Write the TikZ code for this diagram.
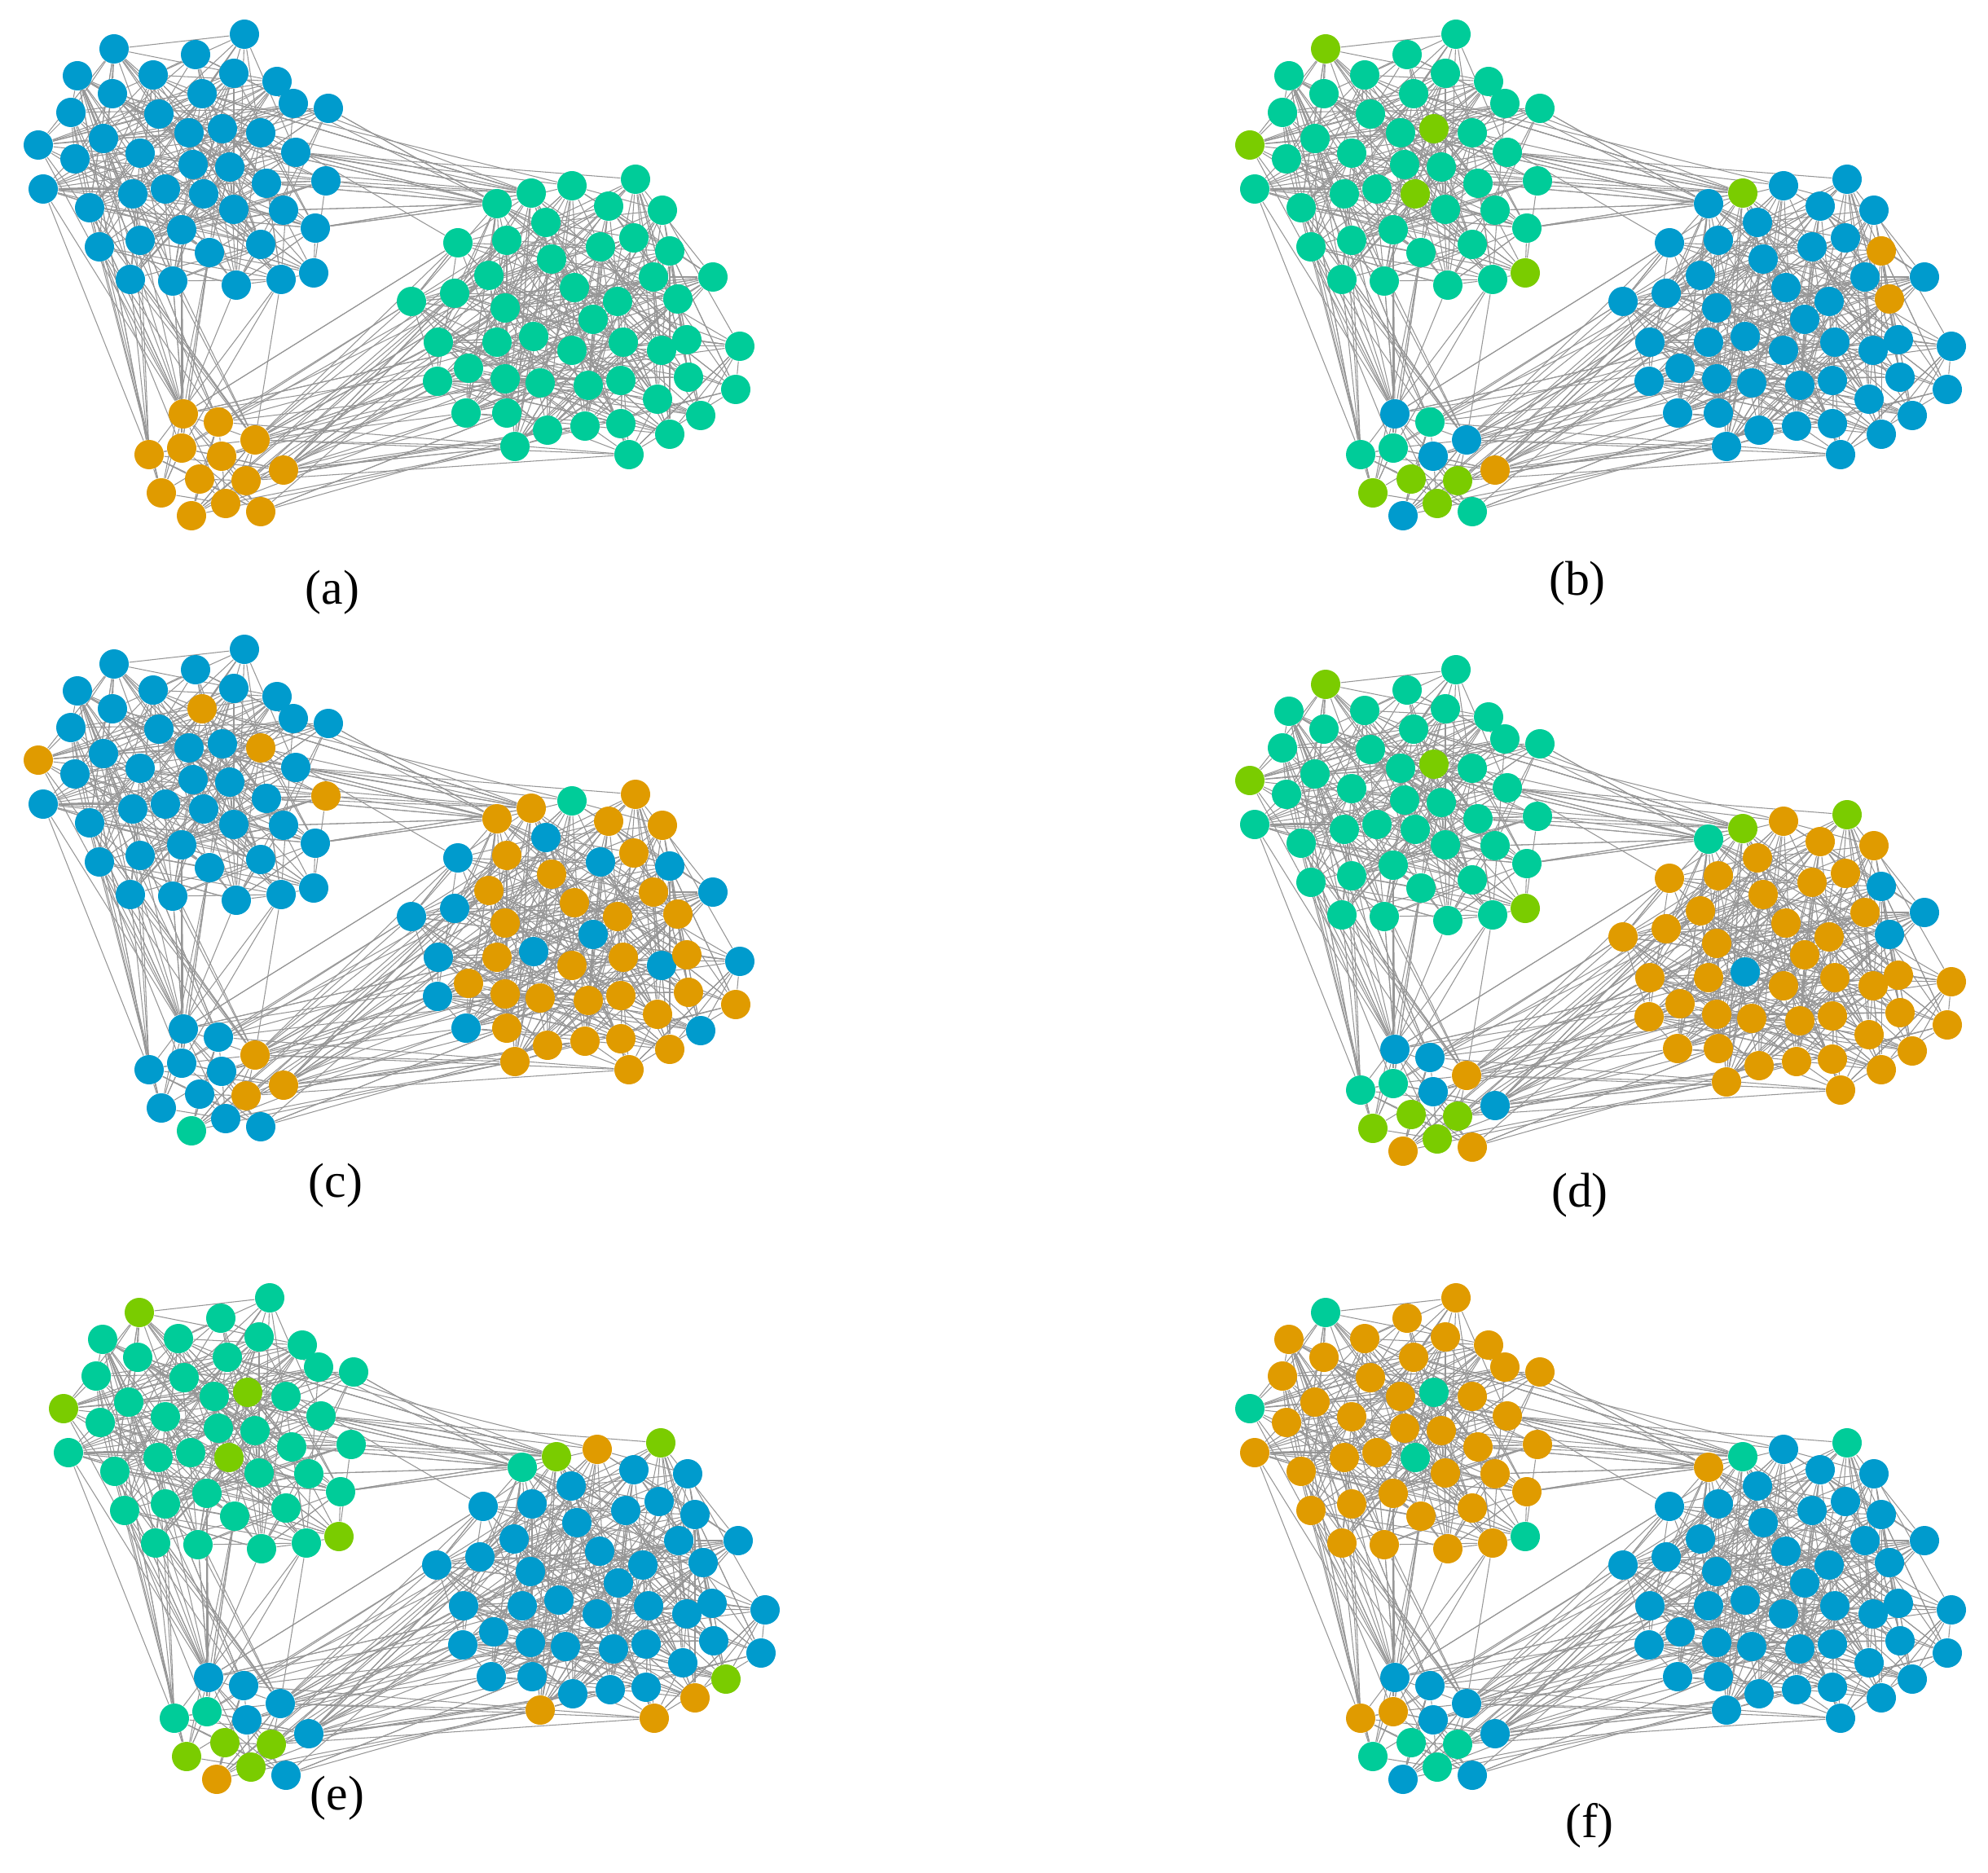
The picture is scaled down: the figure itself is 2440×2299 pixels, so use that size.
\documentclass[tikz,border=0pt]{standalone}
\usepackage{fontspec}
\setmainfont{Liberation Serif}
\pgfdeclarelayer{bg}
\pgfsetlayers{bg,main}
\definecolor{cblue}{RGB}{0,155,205}
\definecolor{cteal}{RGB}{0,204,153}
\definecolor{corange}{RGB}{224,155,0}
\definecolor{clime}{RGB}{122,204,0}
\definecolor{cedge}{RGB}{150,150,150}
\tikzset{
 gnode/.style={circle, inner sep=0pt, minimum size=3.6mm, draw=none},
 gedge/.style={draw=cedge, line width=0.3pt},
 lab/.style={font=\fontsize{17}{20}\selectfont, inner sep=0pt}
}
\def\Tlist{300/42,140/60,240/67,95/93,188/92,287/90,340/100,138/115,248/115,360/127,403/133,87/138,195/140,232/163,273/158,320/163,47/178,127/170,92/195,172/188,363/187,237/202,282/205,327/225,400/222,53/232,163/238,203/232,250/238,110/255,287/257,348/258,387/280,223/282,122/303,172/295,257/310,320/300,160/343,212/345,290/350,345/343,385/335}
\def\Rlist{780/220,702/228,652/237,610/250,747/253,813/258,670/273,562/298,622/295,737/303,778/292,822/308,677/318,600/338,802/340,875/340,558/360,505/370,705/353,758/370,832/367,620/378,728/392,538/420,610/420,655/413,702/430,765/420,812/430,843/417,908/425,575/452,537/468,620/465,663/470,722/473,762/467,845/463,903/478,807/490,572/507,622/507,672/528,718/523,762/520,860/510,822/533,632/548,772/558}
\def\Blist{225/508,268/518,313/540,183/558,223/550,272/560,348/577,245/588,302/590,198/605,277/618,320/628,235/633}
\newcommand\setncs[4]{\foreach \k in {#4}{\expandafter\xdef\csname nc-#1-#2\k\endcsname{#3}}}
\newcommand\pickcol[3]{\ifcsname nc-#1-#2\endcsname\edef\nc{\csname nc-#1-#2\endcsname}\else\edef\nc{#3}\fi}
\newcommand\drawedges[1]{%
 \pgfmathsetseed{4321}%
 \foreach \i in {1,...,43}{\foreach \k in {1,...,6}{\pgfmathrandominteger{\j}{1}{43}\ifnum\j=\i\relax\else\draw[gedge] (#1-T\i) -- (#1-T\j);\fi}}%
 \foreach \i in {1,...,49}{\foreach \k in {1,...,7}{\pgfmathrandominteger{\j}{1}{49}\ifnum\j=\i\relax\else\draw[gedge] (#1-R\i) -- (#1-R\j);\fi}}%
 \foreach \i in {1,...,13}{\foreach \k in {1,2,3}{\pgfmathrandominteger{\j}{1}{13}\ifnum\j=\i\relax\else\draw[gedge] (#1-B\i) -- (#1-B\j);\fi}}%
 \foreach \k in {1,...,30}{\pgfmathrandominteger{\a}{0}{11}\pgfmathrandominteger{\b}{0}{9}%
   \pgfmathtruncatemacro\ta{{11,21,25,33,10,16,24,32,15,23,14,9}[\a]}%
   \pgfmathtruncatemacro\rb{{4,4,4,3,3,3,2,1,4,8}[\b]}%
   \draw[gedge] (#1-T\ta) -- (#1-R\rb);}%
 \foreach \k in {1,...,40}{\pgfmathrandominteger{\a}{0}{15}\pgfmathrandominteger{\b}{0}{9}%
   \pgfmathtruncatemacro\ta{{17,26,30,35,39,40,41,42,43,36,37,19,12,34,27,4}[\a]}%
   \pgfmathtruncatemacro\rb{{1,1,4,4,2,5,3,10,1,4}[\b]}%
   \draw[gedge] (#1-T\ta) -- (#1-B\rb);}%
 \foreach \k in {1,...,60}{\pgfmathrandominteger{\c}{0}{15}\pgfmathrandominteger{\b}{0}{19}%
   \pgfmathtruncatemacro\ba{{1,2,3,3,7,7,12,12,9,6,11,13,5,2,3,7}[\c]}%
   \pgfmathtruncatemacro\rb{{8,14,17,18,24,32,33,41,42,48,22,25,34,43,49,35,44,13,26,9}[\b]}%
   \draw[gedge] (#1-B\ba) -- (#1-R\rb);}%
}
\newcommand\drawpanel[6]{%
 \begin{scope}[shift={(#2,#3)}]
  \foreach \x/\y [count=\i] in \Tlist {\pickcol{#1}{T\i}{#4}\node[gnode,fill=\nc] (#1-T\i) at (\x,\y) {};}
  \foreach \x/\y [count=\i] in \Rlist {\pickcol{#1}{R\i}{#5}\node[gnode,fill=\nc] (#1-R\i) at (\x,\y) {};}
  \foreach \x/\y [count=\i] in \Blist {\pickcol{#1}{B\i}{#6}\node[gnode,fill=\nc] (#1-B\i) at (\x,\y) {};}
  \begin{pgfonlayer}{bg}\drawedges{#1}\end{pgfonlayer}
 \end{scope}}
% colour exceptions
\setncs{b}{T}{clime}{2,15,17,29,43}
\setncs{b}{R}{clime}{3}
\setncs{b}{R}{corange}{12,21}
\setncs{b}{B}{cteal}{2,4,5,12}
\setncs{b}{B}{corange}{7}
\setncs{b}{B}{clime}{8,9,10,11}
\setncs{c}{T}{corange}{9,16,17,25}
\setncs{c}{R}{cteal}{2}
\setncs{c}{R}{cblue}{7,8,10,12,16,17,18,23,24,26,29,31,33,41,46}
\setncs{c}{B}{corange}{3,7,9}
\setncs{c}{B}{cteal}{13}
\setncs{d}{T}{clime}{2,15,17,43}
\setncs{d}{R}{clime}{1,3}
\setncs{d}{R}{cteal}{4}
\setncs{d}{R}{cblue}{12,16,21,26}
\setncs{d}{B}{corange}{3,12,13}
\setncs{d}{B}{cteal}{4,5}
\setncs{d}{B}{clime}{8,9,10,11}
\setncs{e}{T}{clime}{2,15,17,29,43}
\setncs{e}{R}{clime}{1,3,46}
\setncs{e}{R}{corange}{2,47,48,49}
\setncs{e}{R}{cteal}{4}
\setncs{e}{B}{cteal}{4,5}
\setncs{e}{B}{clime}{8,9,10,11}
\setncs{e}{B}{corange}{13}
\setncs{f}{T}{cteal}{2,15,17,29,43}
\setncs{f}{R}{cteal}{1,3}
\setncs{f}{R}{corange}{4}
\setncs{f}{B}{corange}{4,5}
\setncs{f}{B}{cteal}{8,9,10,11}
\begin{document}
\begin{tikzpicture}[x=0.1mm,y=-0.1mm]
\useasboundingbox (0,0) rectangle (2440,2299);
\drawpanel{a}{0}{0}{cblue}{cteal}{corange}
\drawpanel{b}{1487}{0}{cteal}{cblue}{cblue}
\drawpanel{c}{0}{755}{cblue}{corange}{cblue}
\drawpanel{d}{1487}{780}{cteal}{corange}{cblue}
\drawpanel{e}{31}{1551}{cteal}{cblue}{cblue}
\drawpanel{f}{1487}{1551}{corange}{cblue}{cblue}
\node[lab] (lab-a) at (408,727) {(a)};
\node[lab] (lab-b) at (1936,716) {(b)};
\node[lab] (lab-c) at (412,1455) {(c)};
\node[lab] (lab-d) at (1939,1467) {(d)};
\node[lab] (lab-e) at (414,2207) {(e)};
\node[lab] (lab-f) at (1951,2241) {(f)};
\end{tikzpicture}
\end{document}
